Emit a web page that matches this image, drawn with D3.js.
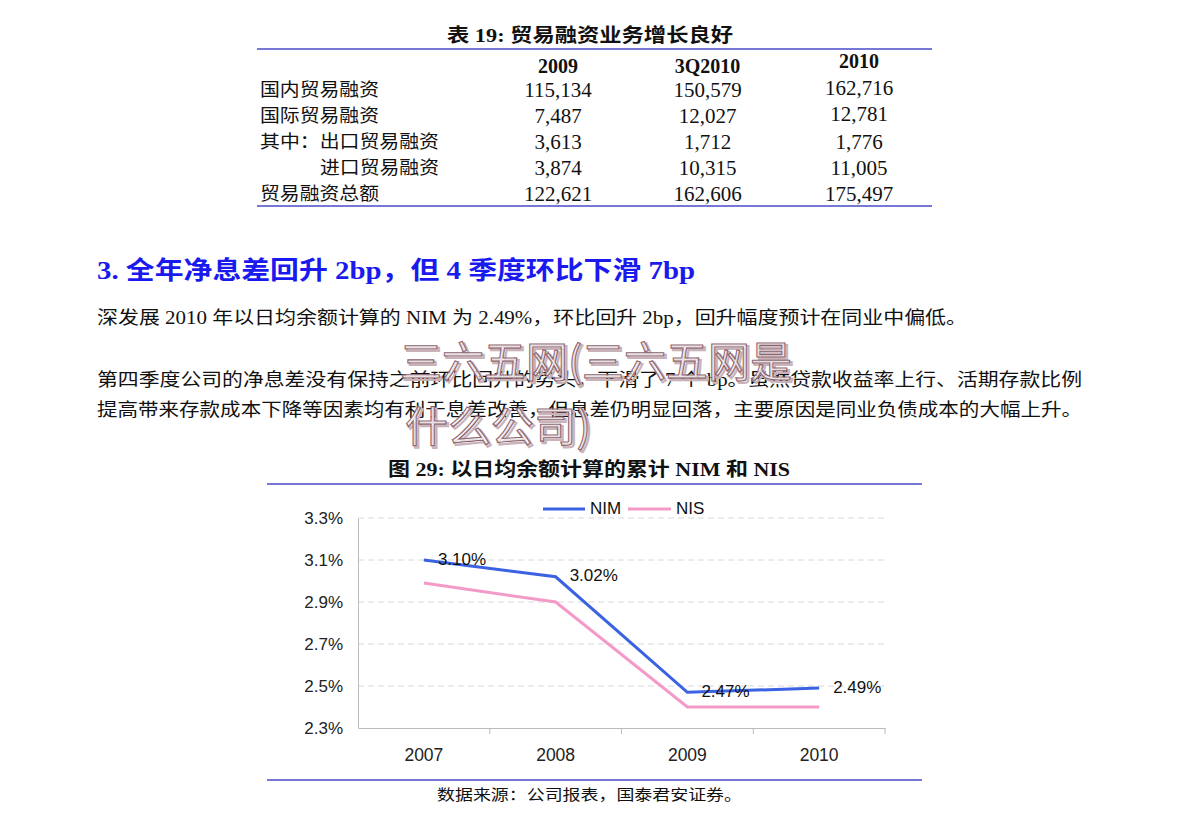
<!DOCTYPE html>
<html><head><meta charset="utf-8">
<script src="https://cdn.jsdelivr.net/npm/d3@7"></script>
<style>
html,body{margin:0;padding:0;background:#fff;}
svg{display:block;}
</style></head>
<body>
<svg id="page" width="1191" height="825"></svg>
<script>
// ---------- data ----------
const tableTitle = "表 19:  贸易融资业务增长良好";
const tableColumns = ["2009", "3Q2010", "2010"];
const tableRowLabels = ["国内贸易融资", "国际贸易融资", "其中：出口贸易融资", "进口贸易融资", "贸易融资总额"];
const tableRowIndent = [0, 0, 0, 1, 0];
const col2009 = ["115,134", "7,487", "3,613", "3,874", "122,621"];
const col3Q2010 = ["150,579", "12,027", "1,712", "10,315", "162,606"];
const col2010 = ["162,716", "12,781", "1,776", "11,005", "175,497"];

const heading = "3.  全年净息差回升 2bp，但 4 季度环比下滑 7bp";
const para1 = "深发展 2010 年以日均余额计算的 NIM 为 2.49%，环比回升 2bp，回升幅度预计在同业中偏低。";
const para2a = "第四季度公司的净息差没有保持之前环比回升的势头，下滑了 7 个 bp。虽然贷款收益率上行、活期存款比例";
const para2b = "提高带来存款成本下降等因素均有利于息差改善，但息差仍明显回落，主要原因是同业负债成本的大幅上升。";
const watermark1 = "三六五网(三六五网是";
const watermark2 = "什么公司)";

const chartTitle = "图 29:  以日均余额计算的累计 NIM 和 NIS";
const sourceNote = "数据来源：公司报表，国泰君安证券。";
const years = ["2007", "2008", "2009", "2010"];
const nim = [3.10, 3.02, 2.47, 2.49];
const nis = [2.99, 2.90, 2.40, 2.40];
const nimLabels = ["3.10%", "3.02%", "2.47%", "2.49%"];
const yTicks = [2.3, 2.5, 2.7, 2.9, 3.1, 3.3];
const seriesNames = ["NIM", "NIS"];

// ---------- drawing ----------
const svg = d3.select("#page");
const serif = "'Liberation Serif','Times New Roman','Noto Sans CJK SC',serif";
const sans = "'Liberation Sans',Arial,'Noto Sans CJK SC',sans-serif";
const ruleColor = "#4a4ac8";

function txt(g, s, x, y, opts) {
  const t = g.append("text").attr("x", x).attr("y", y).text(s)
    .attr("font-family", opts.family || serif)
    .attr("font-size", opts.size || 18)
    .attr("fill", opts.fill || "#111")
    .attr("text-anchor", opts.anchor || "start")
    .attr("dominant-baseline", "central");
  if (opts.weight) t.attr("font-weight", opts.weight);
  if (opts.len) t.attr("textLength", opts.len).attr("lengthAdjust", "spacingAndGlyphs");
  return t;
}

// ---- table ----
txt(svg, tableTitle, 447, 35, {size: 19, weight: "bold", len: 286});
svg.append("line").attr("x1", 257).attr("x2", 932).attr("y1", 49).attr("y2", 49)
  .attr("stroke", ruleColor).attr("stroke-width", 1.6);
svg.append("line").attr("x1", 257).attr("x2", 932).attr("y1", 206).attr("y2", 206)
  .attr("stroke", ruleColor).attr("stroke-width", 1.6);

const colX = d3.scalePoint().domain(tableColumns).range([558, 859]);
const headerY = [66, 66, 61];
tableColumns.forEach((c, i) => txt(svg, c, colX(c) + (i === 1 ? -1 : 0), headerY[i], {size: 20, weight: "bold", anchor: "middle"}));

const rowY = d3.scalePoint().domain(d3.range(tableRowLabels.length)).range([90, 194]);
const colData = [col2009, col3Q2010, col2010];
tableRowLabels.forEach((lab, i) => {
  const x = tableRowIndent[i] ? 320 : 260;
  const n = Array.from(lab).length;
  txt(svg, lab, x, rowY(i), {size: 18, len: n * 20 - 1});
  colData.forEach((col, j) => {
    const yOff = (j === 2 && i < 2) ? -2 : 0;
    txt(svg, col[i], colX(tableColumns[j]) + (j === 1 ? -1 : 0), rowY(i) + yOff, {size: 21, anchor: "middle"});
  });
});

// ---- heading & paragraphs ----
txt(svg, heading, 97, 270, {size: 25, weight: "bold", fill: "#1a1aee", len: 598});
txt(svg, para1, 97, 318, {size: 18, len: 870});
txt(svg, para2a, 97, 380, {size: 18, len: 985});
txt(svg, para2b, 97, 410, {size: 18, len: 985});

// ---- watermark (outlined, semi-transparent) ----
const wm = svg.append("g").attr("font-family", "'Noto Sans CJK SC',sans-serif").attr("font-weight", "normal");
[[watermark1, 400, 358, 392], [watermark2, 405, 423, 186]].forEach(([s, x, y, l]) => {
  wm.append("text").attr("x", x + 2).attr("y", y + 2).text(s).attr("font-size", 42)
    .attr("dominant-baseline", "central").attr("textLength", l).attr("lengthAdjust", "spacingAndGlyphs")
    .attr("fill", "none").attr("stroke", "#c9b3b9").attr("stroke-width", 2.2);
  wm.append("text").attr("x", x).attr("y", y).text(s).attr("font-size", 42)
    .attr("dominant-baseline", "central").attr("textLength", l).attr("lengthAdjust", "spacingAndGlyphs")
    .attr("fill", "#ffffff").attr("fill-opacity", 0.6).attr("stroke", "#8c6470").attr("stroke-width", 1.1);
});

// ---- chart ----
txt(svg, chartTitle, 388, 469, {size: 19, weight: "bold", len: 402});
svg.append("line").attr("x1", 267).attr("x2", 922).attr("y1", 484).attr("y2", 484)
  .attr("stroke", ruleColor).attr("stroke-width", 1.6);
svg.append("line").attr("x1", 267).attr("x2", 922).attr("y1", 780).attr("y2", 780)
  .attr("stroke", ruleColor).attr("stroke-width", 1.6);
txt(svg, sourceNote, 437, 795, {size: 15, len: 305});

const x = d3.scaleBand().domain(years).range([358, 885]).paddingInner(0).paddingOuter(0);
const y = d3.scaleLinear().domain([2.3, 3.3]).range([728, 518]);
const cx = d => x(d) + x.bandwidth() / 2;

const chart = svg.append("g");
// gridlines
chart.append("g").selectAll("line").data(yTicks.filter(t => t > 2.3)).join("line")
  .attr("x1", 358).attr("x2", 885).attr("y1", d => y(d)).attr("y2", d => y(d))
  .attr("stroke", "#d8d8d8").attr("stroke-width", 1).attr("stroke-dasharray", "6,4");

// y axis
const yAxis = chart.append("g").attr("transform", "translate(358,0)")
  .call(d3.axisLeft(y).tickValues(yTicks).tickFormat(d => d.toFixed(1) + "%").tickSize(0).tickPadding(15));
yAxis.select(".domain").attr("stroke", "#bcbcbc");
yAxis.selectAll("text").attr("font-family", sans).attr("font-size", 17).attr("fill", "#222");

// x axis
const xAxis = chart.append("g").attr("transform", "translate(0,728)")
  .call(d3.axisBottom(x).tickSize(0).tickPadding(21));
xAxis.select(".domain").attr("stroke", "#bcbcbc");
xAxis.selectAll("text").attr("font-family", sans).attr("font-size", 17.5).attr("fill", "#222");
xAxis.append("g").selectAll("line").data(years.map(d => x(d)).slice(1).concat([885])).join("line")
  .attr("x1", d => d).attr("x2", d => d).attr("y1", 0).attr("y2", 6).attr("stroke", "#bcbcbc");

// lines
const line = d3.line().x(d => cx(d.year)).y(d => y(d.v));
const nisData = years.map((yr, i) => ({year: yr, v: nis[i]}));
const nimData = years.map((yr, i) => ({year: yr, v: nim[i]}));
const colors = {NIM: "#3a62e2", NIS: "#f49ac8"};
chart.append("path").datum(nisData).attr("d", line).attr("fill", "none")
  .attr("stroke", colors.NIS).attr("stroke-width", 3);
chart.append("path").datum(nimData).attr("d", line).attr("fill", "none")
  .attr("stroke", colors.NIM).attr("stroke-width", 3);

// data labels
chart.append("g").selectAll("text").data(nimData).join("text")
  .attr("x", d => cx(d.year) + 14).attr("y", d => y(d.v) - 1)
  .attr("dominant-baseline", "central")
  .attr("font-family", sans).attr("font-size", 17).attr("fill", "#111")
  .text((d, i) => nimLabels[i]);

// legend
const leg = svg.append("g");
const legItems = [{name: seriesNames[0], x1: 543, x2: 585}, {name: seriesNames[1], x1: 628, x2: 671}];
legItems.forEach(it => {
  leg.append("line").attr("x1", it.x1).attr("x2", it.x2).attr("y1", 509).attr("y2", 509)
    .attr("stroke", colors[it.name]).attr("stroke-width", 3);
  txt(leg, it.name, it.x2 + 5, 508, {family: sans, size: 17});
});
</script>
</body></html>
